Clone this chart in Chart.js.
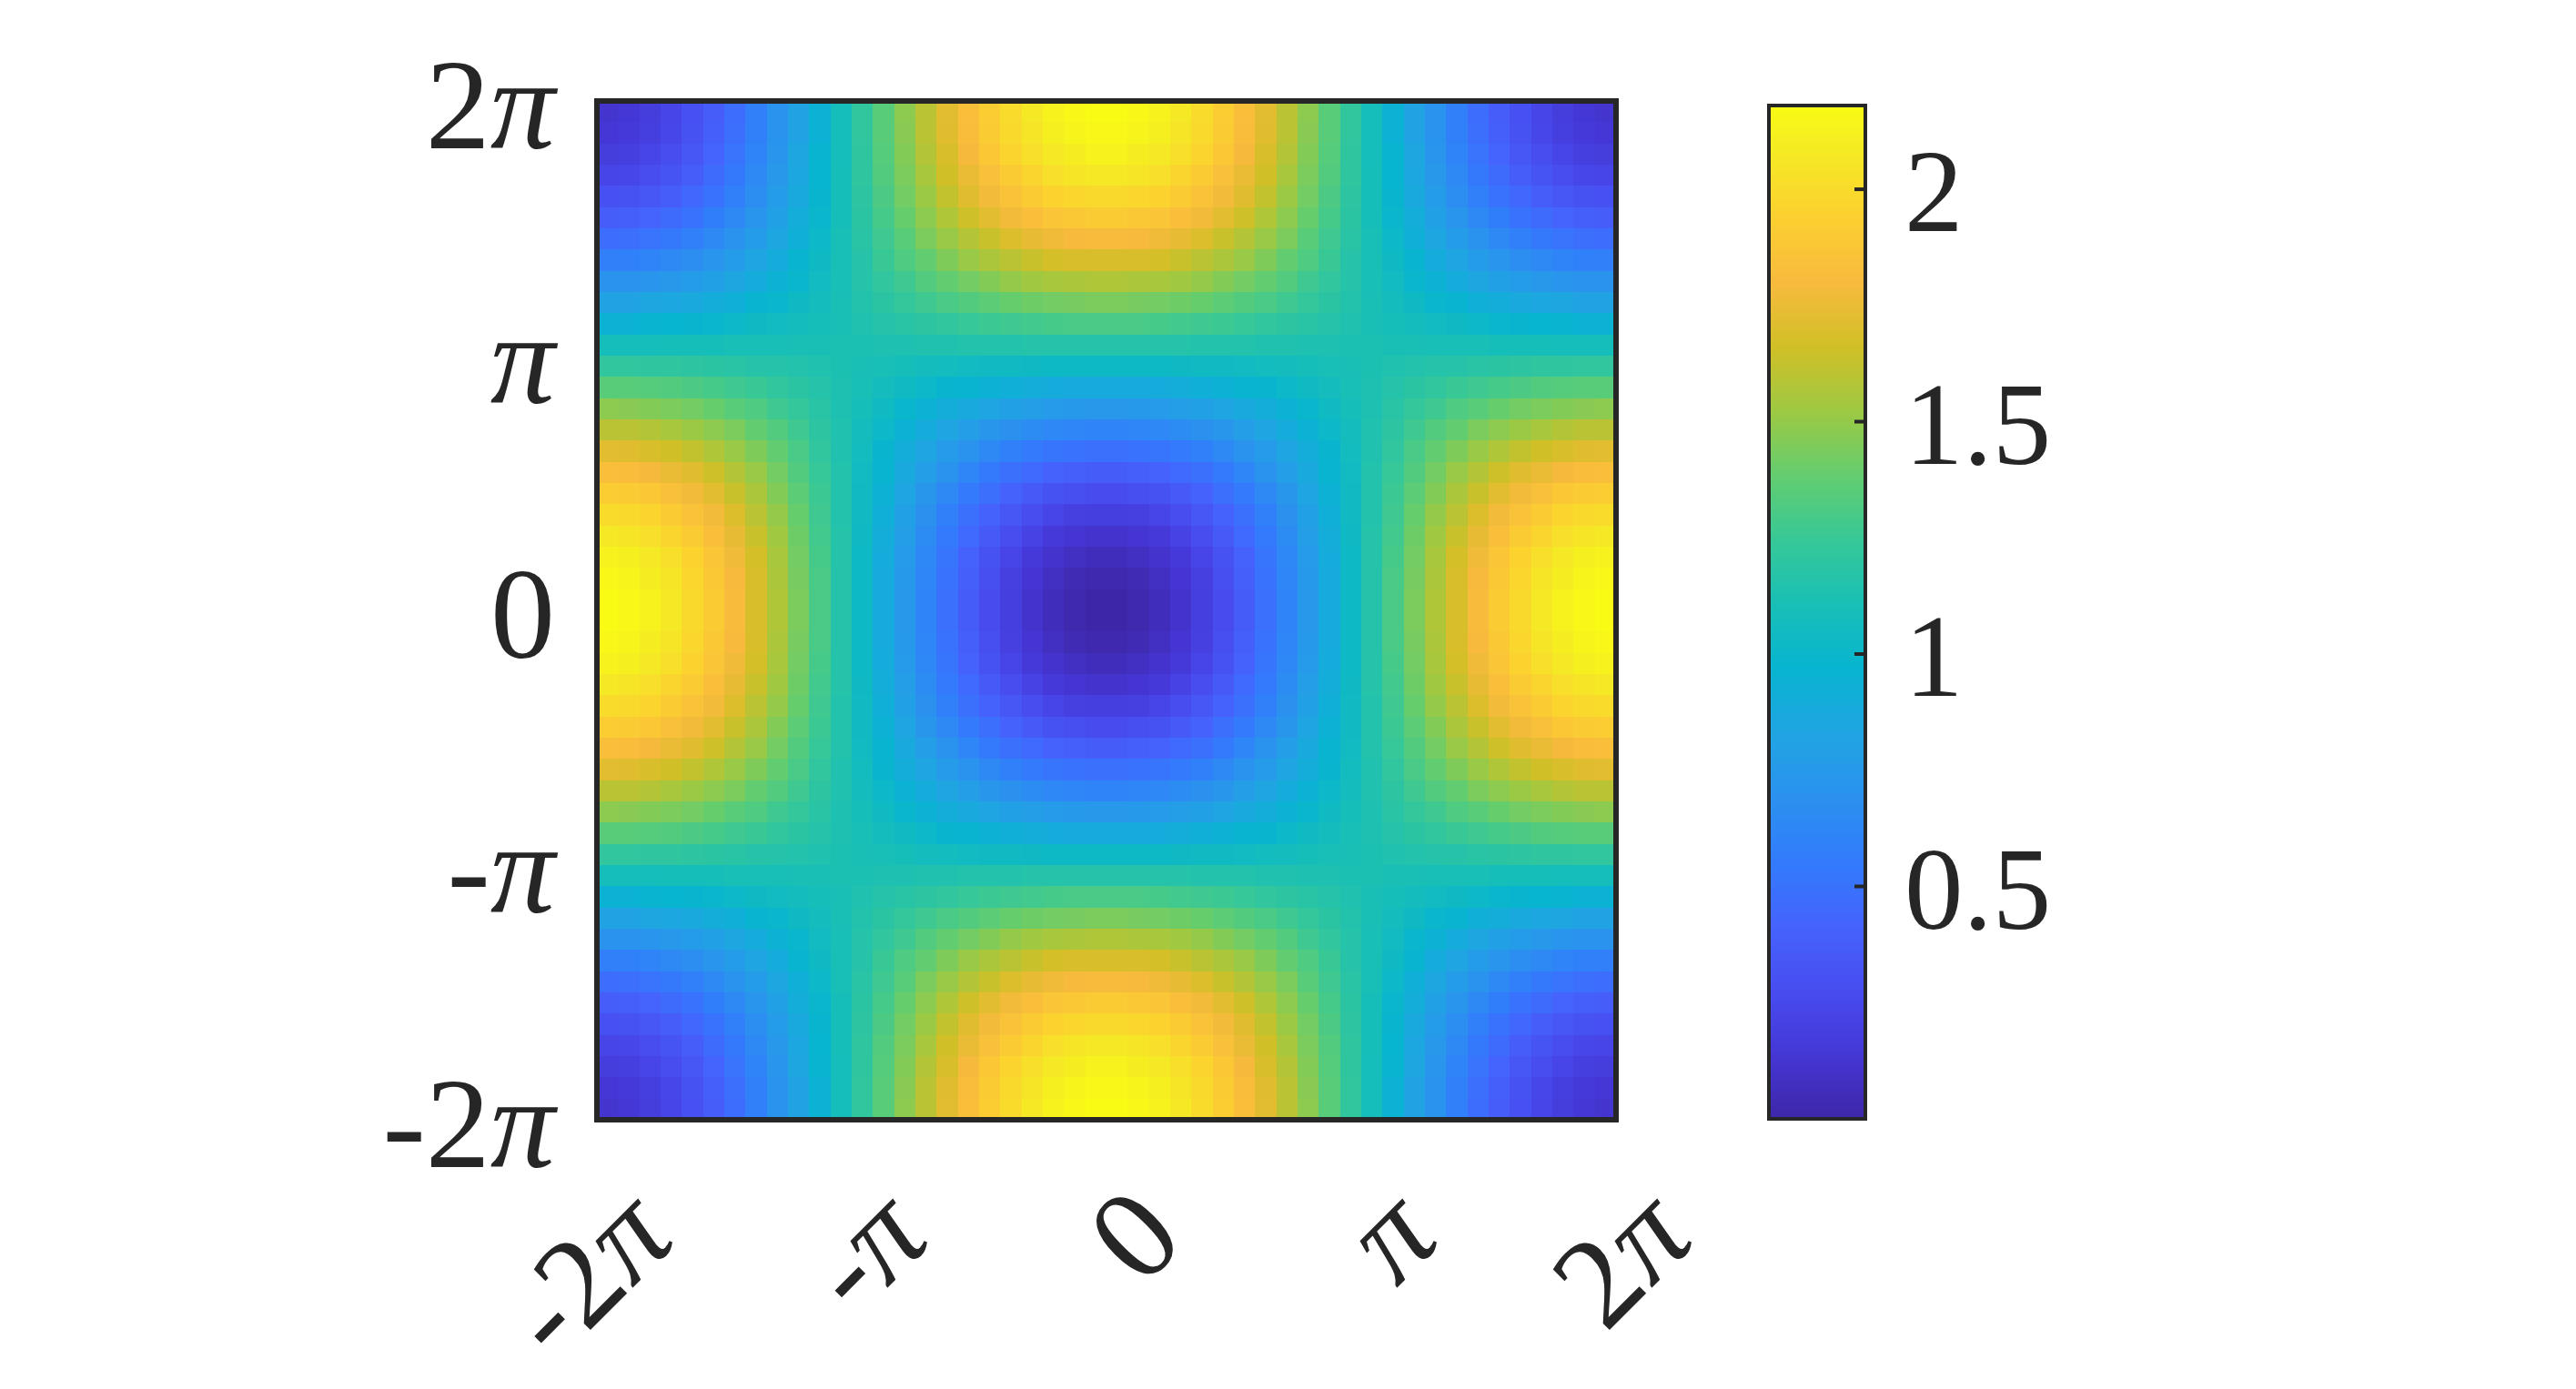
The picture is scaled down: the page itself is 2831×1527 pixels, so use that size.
<!DOCTYPE html>
<html>
<head>
<meta charset="utf-8">
<title>Heatmap</title>
<script src="https://cdn.jsdelivr.net/npm/chart.js@4.4.0/dist/chart.umd.min.js"></script>
<style>
html, body { margin: 0; padding: 0; background: #fff; }
#wrap { width: 2831px; height: 1527px; }
</style>
</head>
<body>
<div id="wrap"><canvas id="heat"></canvas></div>
<script>
const PI = Math.PI;

// axis ticks
const xTicks = [-2 * PI, -PI, 0, PI, 2 * PI];
const xTickLabels = ["-2π", "-π", "0", "π", "2π"];
const yTicks = [-2 * PI, -PI, 0, PI, 2 * PI];
const yTickLabels = ["-2π", "-π", "0", "π", "2π"];
const cbarTicks = [0.5, 1, 1.5, 2];
const cbarTickLabels = ["0.5", "1", "1.5", "2"];

// grid extent
const xRange = [-2 * PI, 2 * PI];
const yRange = [-2 * PI, 2 * PI];

// z values, rows from y=-2π up to y=2π, columns from x=-2π to x=2π
const zGrid = [
[0.12,0.14,0.18,0.23,0.30,0.38,0.47,0.58,0.70,0.82,0.95,1.08,1.22,1.35,1.48,1.60,1.72,1.83,1.92,2.00,2.07,2.12,2.16,2.18,2.18,2.16,2.12,2.07,2.00,1.92,1.83,1.72,1.60,1.48,1.35,1.22,1.08,0.95,0.82,0.70,0.58,0.47,0.38,0.30,0.23,0.18,0.14,0.12],
[0.14,0.16,0.19,0.24,0.31,0.39,0.48,0.59,0.70,0.82,0.95,1.08,1.22,1.35,1.47,1.60,1.71,1.82,1.91,1.99,2.05,2.11,2.14,2.16,2.16,2.14,2.11,2.05,1.99,1.91,1.82,1.71,1.60,1.47,1.35,1.22,1.08,0.95,0.82,0.70,0.59,0.48,0.39,0.31,0.24,0.19,0.16,0.14],
[0.18,0.19,0.23,0.28,0.34,0.42,0.51,0.61,0.72,0.84,0.96,1.08,1.21,1.34,1.46,1.58,1.69,1.79,1.88,1.96,2.02,2.07,2.10,2.12,2.12,2.10,2.07,2.02,1.96,1.88,1.79,1.69,1.58,1.46,1.34,1.21,1.08,0.96,0.84,0.72,0.61,0.51,0.42,0.34,0.28,0.23,0.19,0.18],
[0.23,0.24,0.28,0.32,0.38,0.46,0.54,0.64,0.74,0.85,0.97,1.09,1.21,1.33,1.44,1.55,1.66,1.75,1.84,1.91,1.97,2.02,2.05,2.07,2.07,2.05,2.02,1.97,1.91,1.84,1.75,1.66,1.55,1.44,1.33,1.21,1.09,0.97,0.85,0.74,0.64,0.54,0.46,0.38,0.32,0.28,0.24,0.23],
[0.30,0.31,0.34,0.38,0.44,0.50,0.58,0.67,0.77,0.87,0.98,1.09,1.20,1.31,1.42,1.52,1.62,1.71,1.78,1.85,1.91,1.95,1.98,1.99,1.99,1.98,1.95,1.91,1.85,1.78,1.71,1.62,1.52,1.42,1.31,1.20,1.09,0.98,0.87,0.77,0.67,0.58,0.50,0.44,0.38,0.34,0.31,0.30],
[0.38,0.39,0.42,0.46,0.50,0.57,0.64,0.72,0.80,0.90,0.99,1.09,1.19,1.29,1.39,1.48,1.57,1.65,1.72,1.78,1.83,1.87,1.89,1.91,1.91,1.89,1.87,1.83,1.78,1.72,1.65,1.57,1.48,1.39,1.29,1.19,1.09,0.99,0.90,0.80,0.72,0.64,0.57,0.50,0.46,0.42,0.39,0.38],
[0.47,0.48,0.51,0.54,0.58,0.64,0.70,0.77,0.84,0.92,1.01,1.10,1.18,1.27,1.35,1.44,1.51,1.58,1.64,1.70,1.74,1.77,1.80,1.81,1.81,1.80,1.77,1.74,1.70,1.64,1.58,1.51,1.44,1.35,1.27,1.18,1.10,1.01,0.92,0.84,0.77,0.70,0.64,0.58,0.54,0.51,0.48,0.47],
[0.58,0.59,0.61,0.64,0.67,0.72,0.77,0.83,0.89,0.96,1.03,1.10,1.17,1.25,1.32,1.38,1.45,1.51,1.56,1.60,1.64,1.67,1.68,1.69,1.69,1.68,1.67,1.64,1.60,1.56,1.51,1.45,1.38,1.32,1.25,1.17,1.10,1.03,0.96,0.89,0.83,0.77,0.72,0.67,0.64,0.61,0.59,0.58],
[0.70,0.70,0.72,0.74,0.77,0.80,0.84,0.89,0.94,0.99,1.05,1.10,1.16,1.22,1.27,1.33,1.38,1.42,1.46,1.50,1.53,1.55,1.56,1.57,1.57,1.56,1.55,1.53,1.50,1.46,1.42,1.38,1.33,1.27,1.22,1.16,1.10,1.05,0.99,0.94,0.89,0.84,0.80,0.77,0.74,0.72,0.70,0.70],
[0.82,0.82,0.84,0.85,0.87,0.90,0.92,0.96,0.99,1.03,1.07,1.11,1.15,1.19,1.23,1.27,1.30,1.33,1.36,1.39,1.41,1.42,1.43,1.44,1.44,1.43,1.42,1.41,1.39,1.36,1.33,1.30,1.27,1.23,1.19,1.15,1.11,1.07,1.03,0.99,0.96,0.92,0.90,0.87,0.85,0.84,0.82,0.82],
[0.95,0.95,0.96,0.97,0.98,0.99,1.01,1.03,1.05,1.07,1.09,1.11,1.14,1.16,1.18,1.20,1.22,1.24,1.26,1.27,1.28,1.29,1.30,1.30,1.30,1.30,1.29,1.28,1.27,1.26,1.24,1.22,1.20,1.18,1.16,1.14,1.11,1.09,1.07,1.05,1.03,1.01,0.99,0.98,0.97,0.96,0.95,0.95],
[1.08,1.08,1.08,1.09,1.09,1.09,1.10,1.10,1.10,1.11,1.11,1.12,1.12,1.13,1.13,1.14,1.14,1.15,1.15,1.15,1.16,1.16,1.16,1.16,1.16,1.16,1.16,1.16,1.15,1.15,1.15,1.14,1.14,1.13,1.13,1.12,1.12,1.11,1.11,1.10,1.10,1.10,1.09,1.09,1.09,1.08,1.08,1.08],
[1.22,1.22,1.21,1.21,1.20,1.19,1.18,1.17,1.16,1.15,1.14,1.12,1.11,1.10,1.09,1.07,1.06,1.05,1.04,1.04,1.03,1.02,1.02,1.02,1.02,1.02,1.02,1.03,1.04,1.04,1.05,1.06,1.07,1.09,1.10,1.11,1.12,1.14,1.15,1.16,1.17,1.18,1.19,1.20,1.21,1.21,1.22,1.22],
[1.35,1.35,1.34,1.33,1.31,1.29,1.27,1.25,1.22,1.19,1.16,1.13,1.10,1.07,1.04,1.01,0.98,0.96,0.94,0.92,0.90,0.89,0.88,0.88,0.88,0.88,0.89,0.90,0.92,0.94,0.96,0.98,1.01,1.04,1.07,1.10,1.13,1.16,1.19,1.22,1.25,1.27,1.29,1.31,1.33,1.34,1.35,1.35],
[1.48,1.47,1.46,1.44,1.42,1.39,1.35,1.32,1.27,1.23,1.18,1.13,1.09,1.04,0.99,0.95,0.90,0.87,0.83,0.80,0.78,0.76,0.75,0.74,0.74,0.75,0.76,0.78,0.80,0.83,0.87,0.90,0.95,0.99,1.04,1.09,1.13,1.18,1.23,1.27,1.32,1.35,1.39,1.42,1.44,1.46,1.47,1.48],
[1.60,1.60,1.58,1.55,1.52,1.48,1.44,1.38,1.33,1.27,1.20,1.14,1.07,1.01,0.95,0.89,0.83,0.78,0.73,0.69,0.66,0.63,0.62,0.61,0.61,0.62,0.63,0.66,0.69,0.73,0.78,0.83,0.89,0.95,1.01,1.07,1.14,1.20,1.27,1.33,1.38,1.44,1.48,1.52,1.55,1.58,1.60,1.60],
[1.72,1.71,1.69,1.66,1.62,1.57,1.51,1.45,1.38,1.30,1.22,1.14,1.06,0.98,0.90,0.83,0.76,0.70,0.64,0.59,0.55,0.52,0.50,0.49,0.49,0.50,0.52,0.55,0.59,0.64,0.70,0.76,0.83,0.90,0.98,1.06,1.14,1.22,1.30,1.38,1.45,1.51,1.57,1.62,1.66,1.69,1.71,1.72],
[1.83,1.82,1.79,1.75,1.71,1.65,1.58,1.51,1.42,1.33,1.24,1.15,1.05,0.96,0.87,0.78,0.70,0.62,0.55,0.49,0.45,0.41,0.39,0.37,0.37,0.39,0.41,0.45,0.49,0.55,0.62,0.70,0.78,0.87,0.96,1.05,1.15,1.24,1.33,1.42,1.51,1.58,1.65,1.71,1.75,1.79,1.82,1.83],
[1.92,1.91,1.88,1.84,1.78,1.72,1.64,1.56,1.46,1.36,1.26,1.15,1.04,0.94,0.83,0.73,0.64,0.55,0.48,0.41,0.36,0.31,0.29,0.27,0.27,0.29,0.31,0.36,0.41,0.48,0.55,0.64,0.73,0.83,0.94,1.04,1.15,1.26,1.36,1.46,1.56,1.64,1.72,1.78,1.84,1.88,1.91,1.92],
[2.00,1.99,1.96,1.91,1.85,1.78,1.70,1.60,1.50,1.39,1.27,1.15,1.04,0.92,0.80,0.69,0.59,0.49,0.41,0.34,0.28,0.23,0.20,0.19,0.19,0.20,0.23,0.28,0.34,0.41,0.49,0.59,0.69,0.80,0.92,1.04,1.15,1.27,1.39,1.50,1.60,1.70,1.78,1.85,1.91,1.96,1.99,2.00],
[2.07,2.05,2.02,1.97,1.91,1.83,1.74,1.64,1.53,1.41,1.28,1.16,1.03,0.90,0.78,0.66,0.55,0.45,0.36,0.28,0.21,0.16,0.13,0.11,0.11,0.13,0.16,0.21,0.28,0.36,0.45,0.55,0.66,0.78,0.90,1.03,1.16,1.28,1.41,1.53,1.64,1.74,1.83,1.91,1.97,2.02,2.05,2.07],
[2.12,2.11,2.07,2.02,1.95,1.87,1.77,1.67,1.55,1.42,1.29,1.16,1.02,0.89,0.76,0.63,0.52,0.41,0.31,0.23,0.16,0.11,0.08,0.06,0.06,0.08,0.11,0.16,0.23,0.31,0.41,0.52,0.63,0.76,0.89,1.02,1.16,1.29,1.42,1.55,1.67,1.77,1.87,1.95,2.02,2.07,2.11,2.12],
[2.16,2.14,2.10,2.05,1.98,1.89,1.80,1.68,1.56,1.43,1.30,1.16,1.02,0.88,0.75,0.62,0.50,0.39,0.29,0.20,0.13,0.08,0.04,0.02,0.02,0.04,0.08,0.13,0.20,0.29,0.39,0.50,0.62,0.75,0.88,1.02,1.16,1.30,1.43,1.56,1.68,1.80,1.89,1.98,2.05,2.10,2.14,2.16],
[2.18,2.16,2.12,2.07,1.99,1.91,1.81,1.69,1.57,1.44,1.30,1.16,1.02,0.88,0.74,0.61,0.49,0.37,0.27,0.19,0.11,0.06,0.02,0.00,0.00,0.02,0.06,0.11,0.19,0.27,0.37,0.49,0.61,0.74,0.88,1.02,1.16,1.30,1.44,1.57,1.69,1.81,1.91,1.99,2.07,2.12,2.16,2.18],
[2.18,2.16,2.12,2.07,1.99,1.91,1.81,1.69,1.57,1.44,1.30,1.16,1.02,0.88,0.74,0.61,0.49,0.37,0.27,0.19,0.11,0.06,0.02,0.00,0.00,0.02,0.06,0.11,0.19,0.27,0.37,0.49,0.61,0.74,0.88,1.02,1.16,1.30,1.44,1.57,1.69,1.81,1.91,1.99,2.07,2.12,2.16,2.18],
[2.16,2.14,2.10,2.05,1.98,1.89,1.80,1.68,1.56,1.43,1.30,1.16,1.02,0.88,0.75,0.62,0.50,0.39,0.29,0.20,0.13,0.08,0.04,0.02,0.02,0.04,0.08,0.13,0.20,0.29,0.39,0.50,0.62,0.75,0.88,1.02,1.16,1.30,1.43,1.56,1.68,1.80,1.89,1.98,2.05,2.10,2.14,2.16],
[2.12,2.11,2.07,2.02,1.95,1.87,1.77,1.67,1.55,1.42,1.29,1.16,1.02,0.89,0.76,0.63,0.52,0.41,0.31,0.23,0.16,0.11,0.08,0.06,0.06,0.08,0.11,0.16,0.23,0.31,0.41,0.52,0.63,0.76,0.89,1.02,1.16,1.29,1.42,1.55,1.67,1.77,1.87,1.95,2.02,2.07,2.11,2.12],
[2.07,2.05,2.02,1.97,1.91,1.83,1.74,1.64,1.53,1.41,1.28,1.16,1.03,0.90,0.78,0.66,0.55,0.45,0.36,0.28,0.21,0.16,0.13,0.11,0.11,0.13,0.16,0.21,0.28,0.36,0.45,0.55,0.66,0.78,0.90,1.03,1.16,1.28,1.41,1.53,1.64,1.74,1.83,1.91,1.97,2.02,2.05,2.07],
[2.00,1.99,1.96,1.91,1.85,1.78,1.70,1.60,1.50,1.39,1.27,1.15,1.04,0.92,0.80,0.69,0.59,0.49,0.41,0.34,0.28,0.23,0.20,0.19,0.19,0.20,0.23,0.28,0.34,0.41,0.49,0.59,0.69,0.80,0.92,1.04,1.15,1.27,1.39,1.50,1.60,1.70,1.78,1.85,1.91,1.96,1.99,2.00],
[1.92,1.91,1.88,1.84,1.78,1.72,1.64,1.56,1.46,1.36,1.26,1.15,1.04,0.94,0.83,0.73,0.64,0.55,0.48,0.41,0.36,0.31,0.29,0.27,0.27,0.29,0.31,0.36,0.41,0.48,0.55,0.64,0.73,0.83,0.94,1.04,1.15,1.26,1.36,1.46,1.56,1.64,1.72,1.78,1.84,1.88,1.91,1.92],
[1.83,1.82,1.79,1.75,1.71,1.65,1.58,1.51,1.42,1.33,1.24,1.15,1.05,0.96,0.87,0.78,0.70,0.62,0.55,0.49,0.45,0.41,0.39,0.37,0.37,0.39,0.41,0.45,0.49,0.55,0.62,0.70,0.78,0.87,0.96,1.05,1.15,1.24,1.33,1.42,1.51,1.58,1.65,1.71,1.75,1.79,1.82,1.83],
[1.72,1.71,1.69,1.66,1.62,1.57,1.51,1.45,1.38,1.30,1.22,1.14,1.06,0.98,0.90,0.83,0.76,0.70,0.64,0.59,0.55,0.52,0.50,0.49,0.49,0.50,0.52,0.55,0.59,0.64,0.70,0.76,0.83,0.90,0.98,1.06,1.14,1.22,1.30,1.38,1.45,1.51,1.57,1.62,1.66,1.69,1.71,1.72],
[1.60,1.60,1.58,1.55,1.52,1.48,1.44,1.38,1.33,1.27,1.20,1.14,1.07,1.01,0.95,0.89,0.83,0.78,0.73,0.69,0.66,0.63,0.62,0.61,0.61,0.62,0.63,0.66,0.69,0.73,0.78,0.83,0.89,0.95,1.01,1.07,1.14,1.20,1.27,1.33,1.38,1.44,1.48,1.52,1.55,1.58,1.60,1.60],
[1.48,1.47,1.46,1.44,1.42,1.39,1.35,1.32,1.27,1.23,1.18,1.13,1.09,1.04,0.99,0.95,0.90,0.87,0.83,0.80,0.78,0.76,0.75,0.74,0.74,0.75,0.76,0.78,0.80,0.83,0.87,0.90,0.95,0.99,1.04,1.09,1.13,1.18,1.23,1.27,1.32,1.35,1.39,1.42,1.44,1.46,1.47,1.48],
[1.35,1.35,1.34,1.33,1.31,1.29,1.27,1.25,1.22,1.19,1.16,1.13,1.10,1.07,1.04,1.01,0.98,0.96,0.94,0.92,0.90,0.89,0.88,0.88,0.88,0.88,0.89,0.90,0.92,0.94,0.96,0.98,1.01,1.04,1.07,1.10,1.13,1.16,1.19,1.22,1.25,1.27,1.29,1.31,1.33,1.34,1.35,1.35],
[1.22,1.22,1.21,1.21,1.20,1.19,1.18,1.17,1.16,1.15,1.14,1.12,1.11,1.10,1.09,1.07,1.06,1.05,1.04,1.04,1.03,1.02,1.02,1.02,1.02,1.02,1.02,1.03,1.04,1.04,1.05,1.06,1.07,1.09,1.10,1.11,1.12,1.14,1.15,1.16,1.17,1.18,1.19,1.20,1.21,1.21,1.22,1.22],
[1.08,1.08,1.08,1.09,1.09,1.09,1.10,1.10,1.10,1.11,1.11,1.12,1.12,1.13,1.13,1.14,1.14,1.15,1.15,1.15,1.16,1.16,1.16,1.16,1.16,1.16,1.16,1.16,1.15,1.15,1.15,1.14,1.14,1.13,1.13,1.12,1.12,1.11,1.11,1.10,1.10,1.10,1.09,1.09,1.09,1.08,1.08,1.08],
[0.95,0.95,0.96,0.97,0.98,0.99,1.01,1.03,1.05,1.07,1.09,1.11,1.14,1.16,1.18,1.20,1.22,1.24,1.26,1.27,1.28,1.29,1.30,1.30,1.30,1.30,1.29,1.28,1.27,1.26,1.24,1.22,1.20,1.18,1.16,1.14,1.11,1.09,1.07,1.05,1.03,1.01,0.99,0.98,0.97,0.96,0.95,0.95],
[0.82,0.82,0.84,0.85,0.87,0.90,0.92,0.96,0.99,1.03,1.07,1.11,1.15,1.19,1.23,1.27,1.30,1.33,1.36,1.39,1.41,1.42,1.43,1.44,1.44,1.43,1.42,1.41,1.39,1.36,1.33,1.30,1.27,1.23,1.19,1.15,1.11,1.07,1.03,0.99,0.96,0.92,0.90,0.87,0.85,0.84,0.82,0.82],
[0.70,0.70,0.72,0.74,0.77,0.80,0.84,0.89,0.94,0.99,1.05,1.10,1.16,1.22,1.27,1.33,1.38,1.42,1.46,1.50,1.53,1.55,1.56,1.57,1.57,1.56,1.55,1.53,1.50,1.46,1.42,1.38,1.33,1.27,1.22,1.16,1.10,1.05,0.99,0.94,0.89,0.84,0.80,0.77,0.74,0.72,0.70,0.70],
[0.58,0.59,0.61,0.64,0.67,0.72,0.77,0.83,0.89,0.96,1.03,1.10,1.17,1.25,1.32,1.38,1.45,1.51,1.56,1.60,1.64,1.67,1.68,1.69,1.69,1.68,1.67,1.64,1.60,1.56,1.51,1.45,1.38,1.32,1.25,1.17,1.10,1.03,0.96,0.89,0.83,0.77,0.72,0.67,0.64,0.61,0.59,0.58],
[0.47,0.48,0.51,0.54,0.58,0.64,0.70,0.77,0.84,0.92,1.01,1.10,1.18,1.27,1.35,1.44,1.51,1.58,1.64,1.70,1.74,1.77,1.80,1.81,1.81,1.80,1.77,1.74,1.70,1.64,1.58,1.51,1.44,1.35,1.27,1.18,1.10,1.01,0.92,0.84,0.77,0.70,0.64,0.58,0.54,0.51,0.48,0.47],
[0.38,0.39,0.42,0.46,0.50,0.57,0.64,0.72,0.80,0.90,0.99,1.09,1.19,1.29,1.39,1.48,1.57,1.65,1.72,1.78,1.83,1.87,1.89,1.91,1.91,1.89,1.87,1.83,1.78,1.72,1.65,1.57,1.48,1.39,1.29,1.19,1.09,0.99,0.90,0.80,0.72,0.64,0.57,0.50,0.46,0.42,0.39,0.38],
[0.30,0.31,0.34,0.38,0.44,0.50,0.58,0.67,0.77,0.87,0.98,1.09,1.20,1.31,1.42,1.52,1.62,1.71,1.78,1.85,1.91,1.95,1.98,1.99,1.99,1.98,1.95,1.91,1.85,1.78,1.71,1.62,1.52,1.42,1.31,1.20,1.09,0.98,0.87,0.77,0.67,0.58,0.50,0.44,0.38,0.34,0.31,0.30],
[0.23,0.24,0.28,0.32,0.38,0.46,0.54,0.64,0.74,0.85,0.97,1.09,1.21,1.33,1.44,1.55,1.66,1.75,1.84,1.91,1.97,2.02,2.05,2.07,2.07,2.05,2.02,1.97,1.91,1.84,1.75,1.66,1.55,1.44,1.33,1.21,1.09,0.97,0.85,0.74,0.64,0.54,0.46,0.38,0.32,0.28,0.24,0.23],
[0.18,0.19,0.23,0.28,0.34,0.42,0.51,0.61,0.72,0.84,0.96,1.08,1.21,1.34,1.46,1.58,1.69,1.79,1.88,1.96,2.02,2.07,2.10,2.12,2.12,2.10,2.07,2.02,1.96,1.88,1.79,1.69,1.58,1.46,1.34,1.21,1.08,0.96,0.84,0.72,0.61,0.51,0.42,0.34,0.28,0.23,0.19,0.18],
[0.14,0.16,0.19,0.24,0.31,0.39,0.48,0.59,0.70,0.82,0.95,1.08,1.22,1.35,1.47,1.60,1.71,1.82,1.91,1.99,2.05,2.11,2.14,2.16,2.16,2.14,2.11,2.05,1.99,1.91,1.82,1.71,1.60,1.47,1.35,1.22,1.08,0.95,0.82,0.70,0.59,0.48,0.39,0.31,0.24,0.19,0.16,0.14],
[0.12,0.14,0.18,0.23,0.30,0.38,0.47,0.58,0.70,0.82,0.95,1.08,1.22,1.35,1.48,1.60,1.72,1.83,1.92,2.00,2.07,2.12,2.16,2.18,2.18,2.16,2.12,2.07,2.00,1.92,1.83,1.72,1.60,1.48,1.35,1.22,1.08,0.95,0.82,0.70,0.58,0.47,0.38,0.30,0.23,0.18,0.14,0.12]
];

const zMin = Math.min(...zGrid.map(r => Math.min(...r)));
const zMax = Math.max(...zGrid.map(r => Math.max(...r)));

// parula colormap stops (position 0..63, r, g, b)
const parulaStops = [
  [0, 0.2422, 0.1504, 0.6603], [4, 0.2706, 0.2147, 0.8364], [8, 0.2813, 0.3006, 0.9414],
  [12, 0.2699, 0.3892, 0.9906], [16, 0.1963, 0.4847, 0.9892], [20, 0.1687, 0.5703, 0.9359],
  [24, 0.1248, 0.6459, 0.8883], [28, 0.0297, 0.7082, 0.8163], [32, 0.0964, 0.75, 0.712],
  [36, 0.2161, 0.7843, 0.5923], [40, 0.3909, 0.8029, 0.4354], [44, 0.6174, 0.7876, 0.2612],
  [48, 0.8203, 0.7498, 0.1535], [52, 0.9728, 0.7298, 0.2394], [56, 0.9892, 0.8136, 0.1885],
  [60, 0.9597, 0.9135, 0.1423], [63, 0.9769, 0.9839, 0.0805]
];

function parula(t) {
  t = Math.min(1, Math.max(0, t)) * 63;
  let i = 0;
  while (i < parulaStops.length - 2 && t > parulaStops[i + 1][0]) i++;
  const a = parulaStops[i], b = parulaStops[i + 1];
  const u = (t - a[0]) / (b[0] - a[0]);
  const c = [1, 2, 3].map(k => Math.round(255 * (a[k] + (b[k] - a[k]) * u)));
  return "rgb(" + c.join(",") + ")";
}

const ink = "#262626";
const fontFamily = "'Liberation Serif', 'Times New Roman', serif";

// draws a label on its baseline, ending at x=0 (or starting there), π set in italic
function drawLabel(ctx, text, size, alignLeft) {
  const parts = [...text].map(ch => ({ ch: ch, font: (ch === "π" ? "italic " : "") + size + "px " + fontFamily }));
  let w = 0;
  parts.forEach(p => { ctx.font = p.font; p.w = ctx.measureText(p.ch).width; w += p.w; });
  let x = alignLeft ? 0 : -w;
  ctx.textAlign = "left";
  ctx.textBaseline = "alphabetic";
  parts.forEach(p => { ctx.font = p.font; ctx.fillText(p.ch, x, 0); x += p.w; });
}

const heatmapPlugin = {
  id: "heatmap",
  beforeDatasetsDraw(chart) {
    const ctx = chart.ctx, xs = chart.scales.x, ys = chart.scales.y;
    const nRows = zGrid.length, nCols = zGrid[0].length;
    const dx = (xRange[1] - xRange[0]) / nCols, dy = (yRange[1] - yRange[0]) / nRows;
    ctx.save();
    for (let r = 0; r < nRows; r++) {
      const yb = Math.round(ys.getPixelForValue(yRange[0] + r * dy));
      const yt = Math.round(ys.getPixelForValue(yRange[0] + (r + 1) * dy));
      for (let j = 0; j < nCols; j++) {
        const xl = Math.round(xs.getPixelForValue(xRange[0] + j * dx));
        const xr = Math.round(xs.getPixelForValue(xRange[0] + (j + 1) * dx));
        ctx.fillStyle = parula((zGrid[r][j] - zMin) / (zMax - zMin));
        ctx.fillRect(xl, yt, xr - xl, yb - yt);
      }
    }
    ctx.restore();
  },
  afterDatasetsDraw(chart) {
    const ctx = chart.ctx, xs = chart.scales.x, ys = chart.scales.y, cs = chart.scales.c;
    const area = chart.chartArea;
    ctx.save();
    // axes box
    ctx.strokeStyle = ink;
    ctx.lineWidth = 6;
    ctx.strokeRect(area.left, area.top, area.right - area.left, area.bottom - area.top);

    ctx.fillStyle = ink;
    // y tick labels
    yTicks.forEach((v, i) => {
      ctx.save();
      ctx.translate(area.left - 46, ys.getPixelForValue(v) + 52);
      drawLabel(ctx, yTickLabels[i], 142, false);
      ctx.restore();
    });
    // x tick labels, rotated 45 degrees
    xTicks.forEach((v, i) => {
      ctx.save();
      ctx.translate(xs.getPixelForValue(v) + 89, area.bottom + 135);
      ctx.rotate(-PI / 4);
      drawLabel(ctx, xTickLabels[i], 142, false);
      ctx.restore();
    });

    // colorbar
    const cbLeft = 1944, cbRight = 2050;
    const cbTop = Math.round(cs.getPixelForValue(zMax));
    const cbBottom = Math.round(cs.getPixelForValue(zMin));
    for (let py = cbTop; py < cbBottom; py++) {
      const v = cs.getValueForPixel(py + 0.5);
      ctx.fillStyle = parula((v - zMin) / (zMax - zMin));
      ctx.fillRect(cbLeft, py, cbRight - cbLeft, 1);
    }
    ctx.strokeStyle = ink;
    ctx.lineWidth = 4;
    ctx.strokeRect(cbLeft, cbTop, cbRight - cbLeft, cbBottom - cbTop);
    ctx.fillStyle = ink;
    cbarTicks.forEach((v, i) => {
      const py = cs.getPixelForValue(v);
      ctx.beginPath();
      ctx.moveTo(cbRight - 12, py);
      ctx.lineTo(cbRight, py);
      ctx.stroke();
      ctx.save();
      ctx.translate(2093, py + 46);
      drawLabel(ctx, cbarTickLabels[i], 129, true);
      ctx.restore();
    });
    ctx.restore();
  }
};

new Chart(document.getElementById("heat"), {
  type: "scatter",
  data: { datasets: [{ data: [] }] },
  options: {
    responsive: true,
    maintainAspectRatio: false,
    animation: false,
    devicePixelRatio: 1,
    layout: { padding: { left: 656, top: 111, right: 1055, bottom: 296 } },
    plugins: { legend: { display: false }, tooltip: { enabled: false } },
    scales: {
      x: { type: "linear", min: xRange[0], max: xRange[1], display: false },
      y: { type: "linear", min: yRange[0], max: yRange[1], display: false },
      c: { type: "linear", axis: "y", position: "right", display: false, min: zMin - 0.002, max: zMax + 0.01 }
    }
  },
  plugins: [heatmapPlugin]
});
</script>
</body>
</html>
